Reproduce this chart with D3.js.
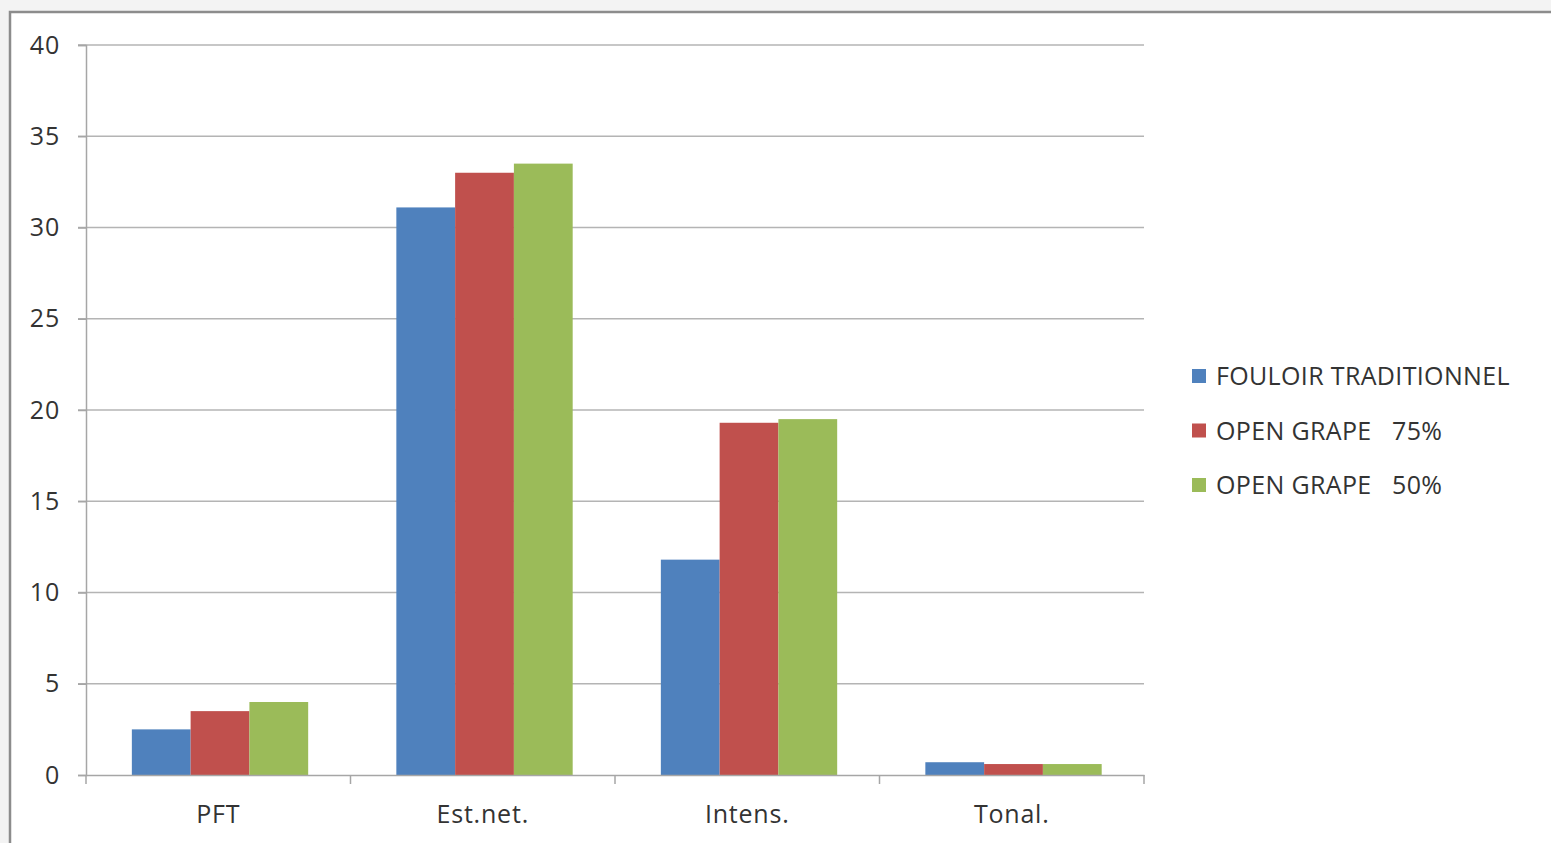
<!DOCTYPE html>
<html>
<head>
<meta charset="utf-8">
<script src="https://cdn.jsdelivr.net/npm/d3@7"></script>
<style>
  html, body { margin: 0; padding: 0; background: #f3f3f3; }
  svg { display: block; }
</style>
</head>
<body>
<svg id="chart" width="1551" height="843"></svg>
<script>
// Categories and series
const categories = ["PFT", "Est.net.", "Intens.", "Tonal."];
const seriesNames = ["FOULOIR TRADITIONNEL", "OPEN GRAPE   75%", "OPEN GRAPE   50%"];
const fouloirValues = [2.5, 31.1, 11.8, 0.7];
const openGrape75Values = [3.5, 33.0, 19.3, 0.6];
const openGrape50Values = [4.0, 33.5, 19.5, 0.6];
const yTicks = [0, 5, 10, 15, 20, 25, 30, 35, 40];
const seriesColors = ["#4f81bd", "#c0504d", "#9bbb59"];

const series = [fouloirValues, openGrape75Values, openGrape50Values];

const svg = d3.select("#chart");
const font = "'Open Sans', sans-serif";
const textColor = "#333333";

// White panel with gray frame
svg.append("rect")
  .attr("x", 10).attr("y", 12)
  .attr("width", 1551).attr("height", 843)
  .attr("fill", "#ffffff")
  .attr("stroke", "#8c8c8c")
  .attr("stroke-width", 2.5);

const plot = { left: 86, right: 1144, top: 45, bottom: 775 };

const x = d3.scaleBand()
  .domain(categories)
  .range([plot.left, plot.right])
  .paddingInner(0)
  .paddingOuter(0);

const xSeries = d3.scaleBand()
  .domain(d3.range(series.length))
  .range([0, x.bandwidth()])
  .paddingOuter(0.75)
  .paddingInner(0)
  .align(0.52);

const y = d3.scaleLinear()
  .domain([0, 40])
  .range([plot.bottom, plot.top]);

// Horizontal gridlines
svg.append("g")
  .selectAll("line")
  .data(yTicks.filter(d => d > 0))
  .join("line")
  .attr("x1", plot.left - 8)
  .attr("x2", plot.right)
  .attr("y1", d => y(d))
  .attr("y2", d => y(d))
  .attr("stroke", "#b4b4b4")
  .attr("stroke-width", 1.5);

// Y axis
const yAxis = svg.append("g")
  .attr("transform", `translate(${plot.left},0)`)
  .call(d3.axisLeft(y).tickValues(yTicks).tickSize(8).tickPadding(18));
yAxis.select(".domain").attr("stroke", "#a6a6a6").attr("stroke-width", 1.5);
yAxis.selectAll(".tick line").attr("stroke", "#a6a6a6").attr("stroke-width", 1.5);
yAxis.selectAll("text")
  .attr("fill", textColor)
  .style("font-family", font)
  .style("font-size", "25px")
  .style("letter-spacing", "0.8px");

// Bars
const groups = svg.append("g")
  .selectAll("g")
  .data(categories)
  .join("g")
  .attr("transform", d => `translate(${x(d)},0)`);

groups.selectAll("rect")
  .data((c, ci) => series.map((s, si) => ({ si, v: s[ci] })))
  .join("rect")
  .attr("x", d => xSeries(d.si))
  .attr("width", xSeries.bandwidth())
  .attr("y", d => y(d.v))
  .attr("height", d => y(0) - y(d.v))
  .attr("fill", d => seriesColors[d.si]);

// X axis
const xAxis = svg.append("g")
  .attr("transform", `translate(0,${plot.bottom})`)
  .call(d3.axisBottom(x).tickSize(0).tickPadding(30));
xAxis.select(".domain").attr("stroke", "#a6a6a6").attr("stroke-width", 1.5);
xAxis.selectAll("text")
  .attr("fill", textColor)
  .style("font-family", font)
  .style("font-size", "25px")
  .style("letter-spacing", "0.8px");

// Category boundary ticks
const boundaries = categories.map(c => x(c)).concat([plot.right]);
svg.append("g")
  .selectAll("line")
  .data(boundaries)
  .join("line")
  .attr("x1", d => d).attr("x2", d => d)
  .attr("y1", plot.bottom).attr("y2", plot.bottom + 9)
  .attr("stroke", "#a6a6a6")
  .attr("stroke-width", 1.5);

// Legend
const legend = svg.append("g")
  .attr("transform", "translate(1192,376)");
const items = legend.selectAll("g")
  .data(seriesNames)
  .join("g")
  .attr("transform", (d, i) => `translate(0,${i * 54.5})`);
items.append("rect")
  .attr("x", 0).attr("y", -7)
  .attr("width", 14).attr("height", 14)
  .attr("fill", (d, i) => seriesColors[i]);
items.append("text")
  .attr("x", 24)
  .attr("y", 0)
  .attr("dy", "0.36em")
  .attr("fill", textColor)
  .style("font-family", font)
  .style("font-size", "25px")
  .style("letter-spacing", "0.35px")
  .style("white-space", "pre")
  .attr("xml:space", "preserve")
  .text(d => d);
</script>
</body>
</html>
